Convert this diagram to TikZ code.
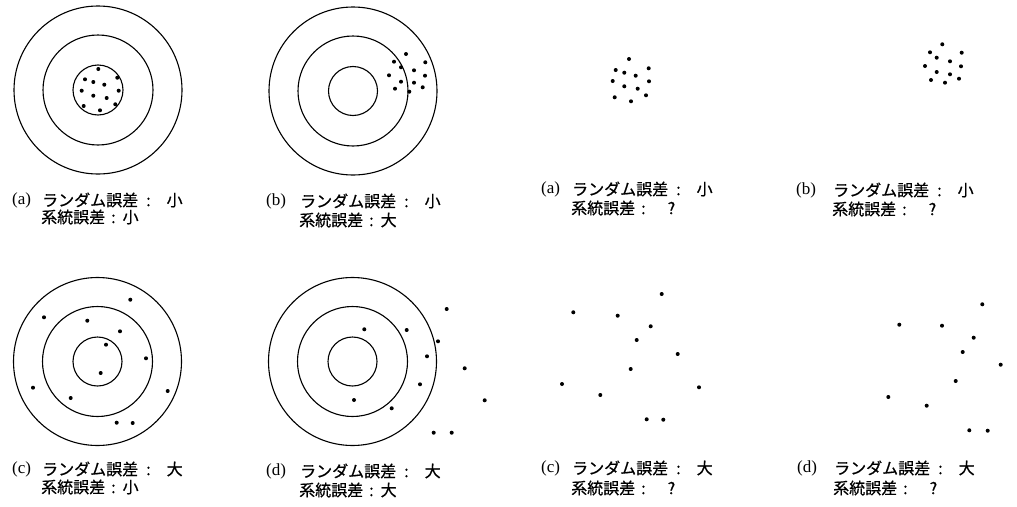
\documentclass[tikz,border=0pt]{standalone}
\usepackage{fontspec}
\newfontfamily\jp[FakeBold=0.6]{Noto Sans CJK JP}
\newfontfamily\tagfont{Liberation Serif}
\begin{document}
\begin{tikzpicture}[x=1pt,y=-1pt,
  ring/.style={draw=black,line width=1.1pt},
  mydot/.style={fill=black},
  tag/.style={anchor=west,inner sep=0pt,font=\tagfont\fontsize{17}{19}\selectfont},
  lab/.style={anchor=west,inner sep=0pt,font=\jp\fontsize{16}{18}\selectfont}]
\useasboundingbox[fill=white] (0,0) rectangle (1017,506);
\def\cA{\hspace{8pt}:\hspace{16pt}}
\def\cB{\hspace{6pt}:\hspace{7pt}}
\def\cQ{\hspace{6pt}:\hspace{22pt}}
% ---- (a) left
\foreach \r in {84,55,25} \draw[ring] (98,90) circle (\r pt);
\foreach \x/\y in {98.3/69,117.3/77.7,85/79.3,93.3/82,104.3/84.7,81.7/90.7,118.7/90.7,93.3/95.7,106.7/98,83.7/106,115.3/104.3,100/110.3}
  \fill[mydot] (\x,\y) circle (2pt);
\node[tag] (ta) at (12,200) {(a)};
\node[lab] (a1) at (42,200) {ランダム誤差\cA 小};
\node[lab] (a2) at (41,217) {系統誤差\cB 小};
% ---- (b) left
\foreach \r in {84,55,24.5} \draw[ring] (353,91) circle (\r pt);
\foreach \x/\y in {406/54,394/61.7,425.3/62.3,401/67.3,414/70.3,389/75.3,425/75.7,401/81.7,414/82.7,395/88.7,422.7/87.3,409.3/91.7}
  \fill[mydot] (\x,\y) circle (2pt);
\node[tag] (tb) at (266,201) {(b)};
\node[lab] (b1) at (300,201) {ランダム誤差\cA 小};
\node[lab] (b2) at (299,220) {系統誤差\cB 大};
% ---- (a) right
\foreach \x/\y in {629/59,615.7/70,648.7/68.3,624.3/72.7,635.7/75.7,612.7/81,649/81.3,624.3/86.3,637.7/88.7,614.7/97.3,646/95.3,631/101.3}
  \fill[mydot] (\x,\y) circle (2pt);
\node[tag] (tc) at (541,189) {(a)};
\node[lab] (c1) at (572,189) {ランダム誤差\cA 小};
\node[lab] (c2) at (571,208) {系統誤差\cQ ?};
% ---- (b) right
\foreach \x/\y in {942.3/44.3,930/52.3,961.7/52.7,936.7/57.7,950/61.3,925/66,961/66.3,936.7/72,950/74.3,931/80,959/78.7,945/82.7}
  \fill[mydot] (\x,\y) circle (2pt);
\node[tag] (td) at (796,190) {(b)};
\node[lab] (d1) at (833,190) {ランダム誤差\cA 小};
\node[lab] (d2) at (832,209) {系統誤差\cQ ?};
% ---- (c) left
\foreach \r in {84,55,24.5} \draw[ring] (97.5,361.5) circle (\r pt);
\foreach \x/\y in {130.3/299.7,44/317.3,87.3/320.7,120/331.3,106/344.7,146/358.3,100.7/373,33/387.7,167.7/391,70.7/398,116.7/422.7,132.7/423}
  \fill[mydot] (\x,\y) circle (2pt);
\node[tag] (te) at (12,469) {(c)};
\node[lab] (e1) at (42,469) {ランダム誤差\cA 大};
\node[lab] (e2) at (41,487) {系統誤差\cB 小};
% ---- (d) left
\foreach \r in {84,55,24.5} \draw[ring] (352.5,361.5) circle (\r pt);
\foreach \x/\y in {446.7/309,364.3/329.3,406.7/330,438/341.3,427/356.3,464.7/368.3,420/384.3,484.7/400.3,354/400,391.7/408.3,433.7/432.7,451.7/432.7}
  \fill[mydot] (\x,\y) circle (2pt);
\node[tag] (tf) at (266,471) {(d)};
\node[lab] (f1) at (300,471) {ランダム誤差\cA 大};
\node[lab] (f2) at (299,490) {系統誤差\cB 大};
% ---- (c) right
\foreach \x/\y in {661.7/294,573.3/312.3,617.7/315.7,650.7/326.3,636.7/340,677.7/354,630.7/369,562/384,699/387.3,600.3/395,646.7/419.3,663.3/419.7}
  \fill[mydot] (\x,\y) circle (2pt);
\node[tag] (tg) at (541,468) {(c)};
\node[lab] (g1) at (572,468) {ランダム誤差\cA 大};
\node[lab] (g2) at (571,488) {系統誤差\cQ ?};
% ---- (d) right
\foreach \x/\y in {982.3/304.3,899.3/324.7,942/325.7,973.7/337.7,962.7/352,1000.7/364.7,955.7/381,888.3/397,926.7/405.7,969.3/430.3,987.7/430.7}
  \fill[mydot] (\x,\y) circle (2pt);
\node[tag] (th) at (797,468) {(d)};
\node[lab] (h1) at (834,468) {ランダム誤差\cA 大};
\node[lab] (h2) at (833,488) {系統誤差\cQ ?};
\end{tikzpicture}
\end{document}
